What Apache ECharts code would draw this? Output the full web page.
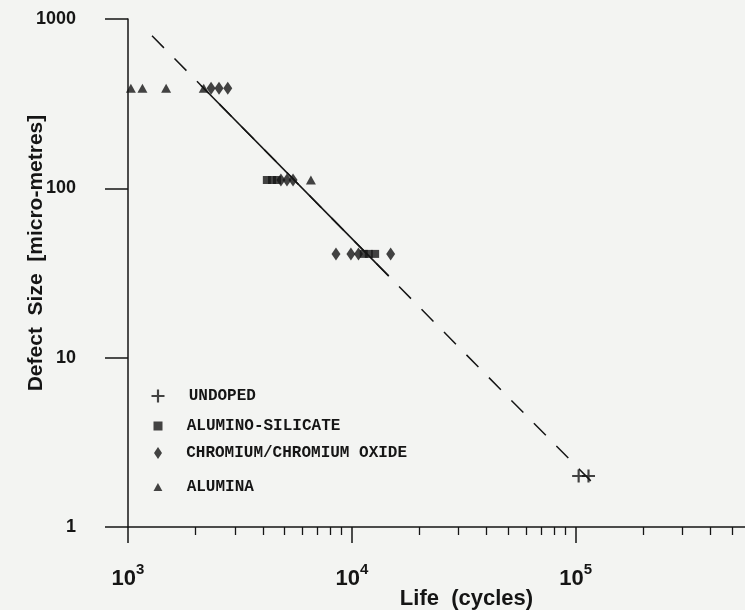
<!DOCTYPE html>
<html>
<head>
<meta charset="utf-8">
<script src="https://cdn.jsdelivr.net/npm/echarts@6/dist/echarts.min.js"></script>
<style>
html,body{margin:0;padding:0;background:#f3f4f2;}
#chart{width:745px;height:610px;}
</style>
</head>
<body>
<div id="chart"></div>
<script>
// ---- data ----
const seriesNames = ['UNDOPED', 'ALUMINO-SILICATE', 'CHROMIUM/CHROMIUM OXIDE', 'ALUMINA'];

const undopedLife = [103000, 114000];
const undopedSize = [2.0, 2.0];

const aluminoLife = [4170, 4400, 4630, 11300, 11900, 12700];
const aluminoSize = [112, 112, 112, 41, 41, 41];

const chromiumLife = [2350, 2550, 2790, 4820, 5130, 5460, 8490, 9900, 10700, 14900];
const chromiumSize = [390, 390, 390, 112, 112, 112, 41, 41, 41, 41];

const aluminaLife = [1030, 1160, 1480, 2180, 6560];
const aluminaSize = [390, 390, 390, 390, 112];

// fitted line (dashed extrapolation, solid over the data range)
const fitLife = [1280, 2120, 14620, 129400];
const fitSize = [796, 405, 30.3, 1.63];

// axis ticks
const lifeMajorTicks = [1000, 10000, 100000];
const lifeMinorTicks = [2000, 3000, 4000, 5000, 6000, 7000, 8000, 9000,
  20000, 30000, 40000, 50000, 60000, 70000, 80000, 90000,
  200000, 300000, 400000, 500000];
const sizeTicks = [1, 10, 100, 1000];

// ---- styling ----
const INK = '#151515';
const PLUS = 'path://M0,5H5V0H7V5H12V7H7V12H5V7H0Z';
const SQUARE = 'path://M0,0H8V8H0Z';
const DIAMOND = 'path://M4,0L8,6L4,12L0,6Z';
const TRIANGLE = 'path://M5,0L10,9H0Z';

function pairs(xs, ys) { return xs.map((x, i) => [x, ys[i]]); }

const chart = echarts.init(document.getElementById('chart'));

function legendRow(name, icon, w, h, centerY) {
  const boxH = Math.max(h, 16);
  return {
    data: [name], icon: icon, itemWidth: w, itemHeight: h,
    left: 158 - w / 2, top: centerY - boxH / 2, padding: 0,
    selectedMode: false, formatter: '  {name}',
    textStyle: { fontFamily: 'Liberation Mono', fontWeight: 'bold', fontSize: 16, color: INK }
  };
}

const option = {
  backgroundColor: '#f3f4f2',
  animation: false,
  grid: { left: 128, right: 0, top: 19, bottom: 83, containLabel: false, outerBoundsMode: 'none' },
  legend: [
    legendRow(seriesNames[0], PLUS, 13, 13, 396),
    legendRow(seriesNames[1], SQUARE, 9, 9, 426),
    legendRow(seriesNames[2], DIAMOND, 8, 12, 453),
    legendRow(seriesNames[3], TRIANGLE, 9, 8, 487)
  ],
  xAxis: [
    {
      type: 'log', logBase: 10, min: 1000, max: 570000,
      position: 'bottom',
      name: 'Life  (cycles)', nameLocation: 'middle', nameGap: 61, nameMoveOverlap: false,
      nameTextStyle: { fontFamily: 'Liberation Sans', fontWeight: 'bold', fontSize: 22, color: INK, padding: [0, 0, 0, 60] },
      axisLine: { show: true, lineStyle: { color: INK, width: 1.5 } },
      axisTick: { show: true, customValues: lifeMajorTicks, length: 16, lineStyle: { color: INK, width: 1.5 } },
      axisLabel: {
        customValues: lifeMajorTicks, margin: 35,
        formatter: v => '{b|10}{s|' + Math.round(Math.log10(v)) + '}',
        rich: {
          b: { fontFamily: 'Liberation Sans', fontWeight: 'bold', fontSize: 22, color: INK, lineHeight: 34 },
          s: { fontFamily: 'Liberation Sans', fontWeight: 'bold', fontSize: 15, color: INK, lineHeight: 15, verticalAlign: 'top' }
        }
      },
      splitLine: { show: false }
    },
    {
      type: 'log', logBase: 10, min: 1000, max: 570000,
      position: 'bottom',
      axisLine: { show: false },
      axisTick: { show: true, customValues: lifeMinorTicks, length: 8, lineStyle: { color: INK, width: 1.3 } },
      axisLabel: { show: false },
      splitLine: { show: false }
    }
  ],
  yAxis: {
    type: 'log', logBase: 10, min: 1, max: 1000,
    name: 'Defect  Size  [micro-metres]', nameLocation: 'middle', nameGap: 81, nameMoveOverlap: false,
    nameTextStyle: { fontFamily: 'Liberation Sans', fontWeight: 'bold', fontSize: 21, color: INK, padding: [0, 0, 0, 40] },
    axisLine: { show: true, lineStyle: { color: INK, width: 1.5 } },
    axisTick: { show: true, customValues: sizeTicks, length: 23, lineStyle: { color: INK, width: 1.5 } },
    axisLabel: {
      customValues: sizeTicks, margin: 52, formatter: v => String(Math.round(v)),
      fontFamily: 'Liberation Sans', fontWeight: 'bold', fontSize: 18, color: INK
    },
    splitLine: { show: false }
  },
  series: [
    {
      name: 'fit-dashed', type: 'line', data: pairs(fitLife, fitSize),
      showSymbol: false, symbol: 'none', silent: true,
      lineStyle: { color: INK, width: 1.5, type: [17, 15] }, z: 1
    },
    {
      name: 'fit-solid', type: 'line', data: pairs(fitLife.slice(1, 3), fitSize.slice(1, 3)),
      showSymbol: false, symbol: 'none', silent: true,
      lineStyle: { color: INK, width: 1.6, type: 'solid' }, z: 2
    },
    {
      name: seriesNames[0], type: 'scatter', data: pairs(undopedLife, undopedSize),
      symbol: PLUS, symbolSize: [13, 13], itemStyle: { color: INK }, z: 3
    },
    {
      name: seriesNames[1], type: 'scatter', data: pairs(aluminoLife, aluminoSize),
      symbol: SQUARE, symbolSize: [8, 8], itemStyle: { color: INK }, z: 3
    },
    {
      name: seriesNames[2], type: 'scatter', data: pairs(chromiumLife, chromiumSize),
      symbol: DIAMOND, symbolSize: [9, 13], itemStyle: { color: INK }, z: 3
    },
    {
      name: seriesNames[3], type: 'scatter', data: pairs(aluminaLife, aluminaSize),
      symbol: TRIANGLE, symbolSize: [10, 9], itemStyle: { color: INK }, z: 3
    }
  ]
};

chart.setOption(option);
</script>
</body>
</html>
